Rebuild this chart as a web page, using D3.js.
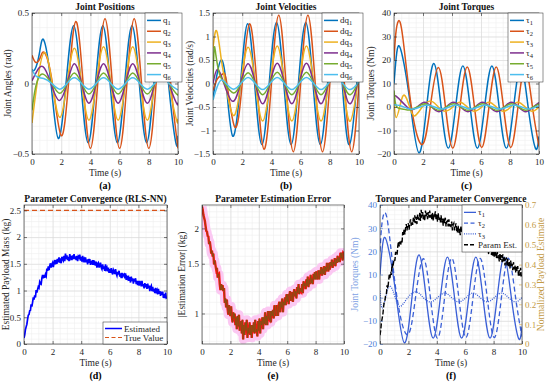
<!DOCTYPE html>
<html>
<head>
<meta charset="utf-8">
<script src="https://cdn.jsdelivr.net/npm/d3@7"></script>
<style>
body{margin:0;background:#fff;}
svg text{font-family:'Liberation Serif','Times New Roman',serif;}
</style>
</head>
<body>
<svg id="fig" width="550" height="386"></svg>
<script>
// ---- data: [time (s), value] key points ----
var posQ1 = [[0,0.10],[0.2,0.10],[0.5,0.21],[0.8,0.31],[1.3,0],[1.8,-0.39],[2.33,0],[2.85,0.41],[3.35,0],[3.85,-0.42],[4.35,0],[4.85,0.41],[5.35,0],[5.85,-0.42],[6.35,0],[6.85,0.41],[7.35,0],[7.85,-0.42],[8.35,0],[8.85,0.41],[9.35,0],[9.85,-0.42],[10,-0.37]];
var posQ2 = [[0,0.20],[0.25,0.15],[0.55,0.18],[0.85,0.22],[1.4,0],[2.0,-0.37],[2.5,0],[3.0,0.44],[3.5,0],[4.0,-0.46],[4.5,0],[5.0,0.46],[5.5,0],[6.0,-0.46],[6.5,0],[7.0,0.46],[7.5,0],[8.0,-0.46],[8.5,0],[9.0,0.46],[9.5,0],[10,-0.46]];
var posQ3 = [[0,-0.28],[0.35,0],[0.85,0.22],[1.38,0],[1.9,-0.24],[2.4,0],[2.9,0.25],[3.4,0],[3.9,-0.26],[4.4,0],[4.9,0.26],[5.4,0],[5.9,-0.26],[6.4,0],[6.9,0.26],[7.4,0],[7.9,-0.26],[8.4,0],[8.9,0.26],[9.4,0],[9.9,-0.26],[10,-0.25]];
var posQ4 = [[0,0.02],[0.3,0.08],[0.75,0.12],[1.3,0],[1.85,-0.12],[2.4,0],[2.9,0.14],[3.4,0],[3.9,-0.14],[4.4,0],[4.9,0.14],[5.4,0],[5.9,-0.14],[6.4,0],[6.9,0.14],[7.4,0],[7.9,-0.14],[8.4,0],[8.9,0.14],[9.4,0],[9.9,-0.14],[10,-0.135]];
var posQ5 = [[0,-0.19],[0.2,-0.05],[0.45,0.04],[0.8,0.065],[1.35,0],[1.9,-0.07],[2.4,0],[2.9,0.075],[3.4,0],[3.9,-0.075],[4.4,0],[4.9,0.075],[5.4,0],[5.9,-0.075],[6.4,0],[6.9,0.075],[7.4,0],[7.9,-0.075],[8.4,0],[8.9,0.075],[9.4,0],[9.9,-0.075],[10,-0.073]];
var posQ6 = [[0,0.10],[0.3,0.05],[0.8,0.035],[1.35,0],[1.9,-0.04],[2.4,0],[2.9,0.04],[3.4,0],[3.9,-0.04],[4.4,0],[4.9,0.04],[5.4,0],[5.9,-0.04],[6.4,0],[6.9,0.04],[7.4,0],[7.9,-0.04],[8.4,0],[8.9,0.04],[9.4,0],[9.9,-0.04],[10,-0.039]];

var velQ1 = [[0,-0.3],[0.25,0.15],[0.55,0.5],[0.9,0],[1.35,-1.12],[1.88,0],[2.37,1.27],[2.85,0],[3.35,-1.3],[3.85,0],[4.35,1.3],[4.85,0],[5.35,-1.3],[5.85,0],[6.35,1.3],[6.85,0],[7.35,-1.3],[7.85,0],[8.35,1.3],[8.85,0],[9.35,-1.3],[9.85,0],[10,0.6]];
var velQ2 = [[0,-0.15],[0.3,0.1],[0.65,0.2],[0.95,0],[1.5,-0.93],[2.0,0],[2.5,1.27],[3.0,0],[3.5,-1.4],[4.0,0],[4.5,1.45],[5.0,0],[5.5,-1.45],[6.0,0],[6.5,1.45],[7.0,0],[7.5,-1.45],[8.0,0],[8.5,1.45],[9.0,0],[9.5,-1.45],[10,0]];
var velQ3 = [[0,0.75],[0.25,1.12],[0.55,0.55],[0.85,0],[1.4,-0.68],[1.9,0],[2.4,0.77],[2.9,0],[3.4,-0.8],[3.9,0],[4.4,0.8],[4.9,0],[5.4,-0.8],[5.9,0],[6.4,0.8],[6.9,0],[7.4,-0.8],[7.9,0],[8.4,0.8],[8.9,0],[9.4,-0.8],[9.9,0],[10,0.25]];
var velQ4 = [[0,0],[0.3,0.3],[0.75,0],[1.35,-0.38],[1.88,0],[2.4,0.42],[2.9,0],[3.4,-0.43],[3.9,0],[4.4,0.43],[4.9,0],[5.4,-0.43],[5.9,0],[6.4,0.43],[6.9,0],[7.4,-0.43],[7.9,0],[8.4,0.43],[8.9,0],[9.4,-0.43],[9.9,0],[10,0.13]];
var velQ5 = [[0,0.1],[0.08,0.75],[0.2,0.6],[0.45,0.2],[0.8,0],[1.4,-0.2],[1.9,0],[2.4,0.23],[2.9,0],[3.4,-0.24],[3.9,0],[4.4,0.24],[4.9,0],[5.4,-0.24],[5.9,0],[6.4,0.24],[6.9,0],[7.4,-0.24],[7.9,0],[8.4,0.24],[8.9,0],[9.4,-0.24],[9.9,0],[10,0.07]];
var velQ6 = [[0,-0.35],[0.25,-0.1],[0.55,0.07],[0.9,0],[1.4,-0.12],[1.9,0],[2.4,0.13],[2.9,0],[3.4,-0.13],[3.9,0],[4.4,0.13],[4.9,0],[5.4,-0.13],[5.9,0],[6.4,0.13],[6.9,0],[7.4,-0.13],[7.9,0],[8.4,0.13],[8.9,0],[9.4,-0.13],[9.9,0],[10,0.04]];

var tau1 = [[0,10],[0.15,21],[0.35,26],[0.7,18],[1.15,0],[1.72,-19.5],[2.25,0],[2.75,18.5],[3.25,0],[3.75,-17.5],[4.25,0],[4.75,17.5],[5.25,0],[5.75,-17.5],[6.25,0],[6.75,17.5],[7.25,0],[7.75,-17.5],[8.25,0],[8.75,17.5],[9.25,0],[9.75,-17.5],[10,-12.5]];
var tau2 = [[0,20],[0.12,31],[0.3,36.5],[0.6,30],[1.2,0],[1.95,-16],[2.5,0],[3.05,16.8],[3.55,0],[4.05,-17.5],[4.55,0],[5.05,17],[5.55,0],[6.05,-17.2],[6.55,0],[7.05,17],[7.55,0],[8.05,-17.2],[8.55,0],[9.05,17],[9.55,0],[10,-16.8]];
var tau3 = [[0,3],[0.15,-4.5],[0.45,1.5],[0.72,5],[1.05,0.5],[1.4,-3.8],[1.95,0],[2.55,2.5],[3.05,0],[3.55,-1.8],[4.05,0],[4.55,2],[5.05,0],[5.55,-1.8],[6.05,0],[6.55,2],[7.05,0],[7.55,-1.8],[8.05,0],[8.55,2],[9.05,0],[9.55,-1.8],[10,0]];
var tau4 = [[0,4],[0.12,4.7],[0.5,2.5],[0.9,0],[1.2,-1.2],[1.6,0],[2.1,2],[2.6,0],[3.1,-2],[3.6,0],[4.1,2],[4.6,0],[5.1,-2],[5.6,0],[6.1,2],[6.6,0],[7.1,-2],[7.6,0],[8.1,2],[8.6,0],[9.1,-2],[9.6,0],[10,1.9]];
var tau5 = [[0,7],[0.1,1.5],[0.3,-0.5],[0.7,-1],[1.1,-1.3],[1.6,0],[2.1,1.4],[2.6,0],[3.1,-1.4],[3.6,0],[4.1,1.4],[4.6,0],[5.1,-1.4],[5.6,0],[6.1,1.4],[6.6,0],[7.1,-1.4],[7.6,0],[8.1,1.4],[8.6,0],[9.1,-1.4],[9.6,0],[10,1.3]];
var tau6 = [[0,1],[0.4,0.6],[0.9,-0.5],[1.3,-0.9],[1.8,0],[2.3,0.9],[2.8,0],[3.3,-0.9],[3.8,0],[4.3,0.9],[4.8,0],[5.3,-0.9],[5.8,0],[6.3,0.9],[6.8,0],[7.3,-0.9],[7.8,0],[8.3,0.9],[8.8,0],[9.3,-0.9],[9.8,0],[10,0.55]];

// estimated payload mass (kg), one sample every 0.05 s
var estStep = 0.05;
var estMass = [
 0.11,0.17,0.27,0.32,0.37,0.46,0.54,0.55,0.62,0.63,
 0.74,0.70,0.78,0.87,0.83,0.91,0.87,1.01,0.96,1.02,
 1.07,1.05,1.16,1.13,1.12,1.23,1.29,1.23,1.29,1.24,
 1.30,1.27,1.41,1.37,1.45,1.38,1.46,1.51,1.43,1.49,
 1.52,1.44,1.52,1.57,1.49,1.54,1.50,1.59,1.53,1.62,
 1.52,1.60,1.51,1.63,1.59,1.56,1.65,1.55,1.69,1.59,
 1.66,1.57,1.63,1.55,1.68,1.61,1.65,1.57,1.66,1.59,
 1.68,1.59,1.64,1.57,1.65,1.55,1.64,1.62,1.67,1.56,
 1.63,1.54,1.65,1.56,1.59,1.53,1.62,1.53,1.58,1.49,
 1.59,1.52,1.59,1.48,1.54,1.55,1.48,1.57,1.48,1.52,
 1.47,1.54,1.43,1.50,1.52,1.43,1.47,1.52,1.43,1.40,
 1.49,1.40,1.45,1.37,1.49,1.40,1.43,1.36,1.43,1.33,
 1.40,1.33,1.42,1.34,1.30,1.39,1.36,1.31,1.40,1.32,
 1.28,1.35,1.30,1.37,1.26,1.32,1.23,1.33,1.27,1.30,
 1.31,1.23,1.32,1.20,1.25,1.22,1.28,1.18,1.25,1.15,
 1.26,1.18,1.23,1.13,1.22,1.17,1.23,1.12,1.18,1.10,
 1.18,1.09,1.18,1.14,1.08,1.18,1.08,1.12,1.04,1.14,
 1.06,1.12,1.03,1.13,1.04,1.09,0.99,1.06,1.09,0.99,
 1.07,0.98,1.03,0.95,1.05,0.98,1.01,0.93,1.03,0.94,
 0.99,0.90,0.98,0.92,0.98,0.86,0.93,0.86,0.96,0.86,0.87
];
var trueMass = 2.5;

var posNames = ["q_1","q_2","q_3","q_4","q_5","q_6"];
var velNames = ["dq_1","dq_2","dq_3","dq_4","dq_5","dq_6"];
var tauNames = ["τ_1","τ_2","τ_3","τ_4","τ_5","τ_6"];
var timeTicks = [0,2,4,6,8,10];

var COLORS = ["#0072BD","#D95319","#EDB120","#7E2F8E","#77AC30","#4DBEEE"];
var INK = "#262626";
var BLUE_F = "#3a5fd6";
var GOLD_F = "#c39a45";

var svg = d3.select("#fig");
var panelCount = 0;

function styleGrid(sel, color){
    sel.select(".domain").remove();
    sel.selectAll(".tick line").attr("stroke",color).attr("stroke-width",0.6);
}

function styleAxis(sel, color){
    sel.select(".domain").remove();
    sel.selectAll(".tick line").attr("stroke",color || INK).attr("stroke-width",0.6);
    sel.selectAll(".tick text").attr("fill",color || INK).style("font-size","9px");
}

function makePanel(o){
    var id = "clip" + (panelCount++);
    var g = svg.append("g");
    var x = d3.scaleLinear().domain([0,10]).range([o.left,o.right]);
    var y = (o.log ? d3.scaleLog() : d3.scaleLinear()).domain(o.yDomain).range([o.bottom,o.top]);
    var w = o.right - o.left, h = o.bottom - o.top;

    g.append("clipPath").attr("id",id).append("rect")
        .attr("x",o.left).attr("y",o.top).attr("width",w).attr("height",h);

    // minor then major grid
    g.append("g").attr("transform","translate(0,"+o.bottom+")")
        .call(d3.axisBottom(x).tickValues(d3.range(0,10.01,0.5)).tickSize(-h).tickFormat(""))
        .call(styleGrid,"#efefef");
    g.append("g").attr("transform","translate("+o.left+",0)")
        .call(d3.axisLeft(y).tickValues(o.yMinor).tickSize(-w).tickFormat(""))
        .call(styleGrid,"#efefef");
    g.append("g").attr("transform","translate(0,"+o.bottom+")")
        .call(d3.axisBottom(x).tickValues(timeTicks).tickSize(-h).tickFormat(""))
        .call(styleGrid,"#d9d9d9");
    g.append("g").attr("transform","translate("+o.left+",0)")
        .call(d3.axisLeft(y).tickValues(o.yTicks).tickSize(-w).tickFormat(""))
        .call(styleGrid,"#d9d9d9");

    var plot = g.append("g").attr("clip-path","url(#"+id+")");

    // axes with inward ticks on all four sides
    g.append("g").attr("transform","translate(0,"+o.bottom+")")
        .call(d3.axisBottom(x).tickValues(timeTicks).tickSizeInner(-3).tickSizeOuter(0).tickPadding(5).tickFormat(d3.format("d")))
        .call(styleAxis);
    g.append("g").attr("transform","translate(0,"+o.top+")")
        .call(d3.axisTop(x).tickValues(timeTicks).tickSizeInner(-3).tickSizeOuter(0).tickFormat(""))
        .call(styleAxis);
    g.append("g").attr("transform","translate("+o.left+",0)")
        .call(d3.axisLeft(y).tickValues(o.yTicks).tickSizeInner(-3).tickSizeOuter(0).tickPadding(3).tickFormat(o.yFormat || d3.format("")))
        .call(styleAxis, o.yColor);
    if(!o.noRight){
        g.append("g").attr("transform","translate("+o.right+",0)")
            .call(d3.axisRight(y).tickValues(o.yTicks).tickSizeInner(-3).tickSizeOuter(0).tickFormat(""))
            .call(styleAxis);
    }

    g.append("rect").attr("x",o.left).attr("y",o.top).attr("width",w).attr("height",h)
        .attr("fill","none").attr("stroke",INK).attr("stroke-width",0.6);

    g.append("text").attr("x",(o.left+o.right)/2).attr("y",o.top-3)
        .attr("text-anchor","middle").style("font-size","9.5px").style("font-weight","bold")
        .attr("fill","#111").text(o.title);
    g.append("text").attr("x",(o.left+o.right)/2).attr("y",o.bottom+22)
        .attr("text-anchor","middle").style("font-size","9.5px").attr("fill",INK).text("Time (s)");
    g.append("text").attr("transform","translate("+o.yLabelX+","+((o.top+o.bottom)/2)+") rotate(-90)")
        .attr("text-anchor","middle").style("font-size","9.5px").attr("fill",o.yLabelColor || INK).text(o.yLabel);
    g.append("text").attr("x",(o.left+o.right)/2 + (o.tagDx || 0)).attr("y",o.bottom+35)
        .attr("text-anchor","middle").style("font-size","10px").style("font-weight","bold")
        .attr("fill","#000").text(o.tag);

    return {g:g, plot:plot, x:x, y:y};
}

function addLabel(textSel, label){
    var parts = label.split("_");
    textSel.append("tspan").text(parts[0]);
    if(parts[1]) textSel.append("tspan").attr("dy",2).style("font-size","6.5px").text(parts[1]);
}

function legend(g, items, bx, by, bw, bh, lineLen){
    g.append("rect").attr("x",bx).attr("y",by).attr("width",bw).attr("height",bh)
        .attr("fill","#fff").attr("stroke",INK).attr("stroke-width",0.5);
    var step = (bh - 4) / items.length;
    items.forEach(function(it,i){
        var cy = by + 2 + step*(i+0.5);
        g.append("line").attr("x1",bx+2).attr("x2",bx+2+lineLen).attr("y1",cy).attr("y2",cy)
            .attr("stroke",it.color).attr("stroke-width",it.width || 1.5)
            .attr("stroke-dasharray",it.dash || null);
        var t = g.append("text").attr("x",bx+4+lineLen).attr("y",cy+3)
            .style("font-size","9px").attr("fill",INK);
        addLabel(t, it.label);
    });
}

function drawCurves(p, series, colors){
    var line = d3.line().x(function(d){return p.x(d[0]);}).y(function(d){return p.y(d[1]);}).curve(d3.curveNatural);
    series.forEach(function(s,i){
        p.plot.append("path").datum(s).attr("d",line)
            .attr("fill","none").attr("stroke",colors[i]).attr("stroke-width",1.5);
    });
}

// ---- (a) joint positions ----
var pa = makePanel({left:32,right:178,top:13,bottom:154,yDomain:[-0.5,0.5],
    yTicks:[-0.5,0,0.5],yMinor:d3.range(-0.5,0.51,0.1),
    title:"Joint Positions",yLabel:"Joint Angles (rad)",yLabelX:11,tag:"(a)"});
drawCurves(pa,[posQ1,posQ2,posQ3,posQ4,posQ5,posQ6],COLORS);
legend(pa.g, posNames.map(function(n,i){return {label:n,color:COLORS[i]};}),145,13,37,69,14);

// ---- (b) joint velocities ----
var pb = makePanel({left:213,right:359,top:13,bottom:154,yDomain:[-1.5,1.5],
    yTicks:[-1.5,-1,-0.5,0,0.5,1,1.5],yMinor:d3.range(-1.5,1.51,0.1),
    title:"Joint Velocities",yLabel:"Joint Velocities (rad/s)",yLabelX:193,tag:"(b)"});
drawCurves(pb,[velQ1,velQ2,velQ3,velQ4,velQ5,velQ6],COLORS);
legend(pb.g, velNames.map(function(n,i){return {label:n,color:COLORS[i]};}),322,13,41,69,14);

// ---- (c) joint torques ----
var pc = makePanel({left:394,right:539,top:13,bottom:154,yDomain:[-20,40],
    yTicks:[-20,-10,0,10,20,30,40],yMinor:d3.range(-20,40.1,2),
    title:"Joint Torques",yLabel:"Joint Torques (Nm)",yLabelX:374,tag:"(c)"});
drawCurves(pc,[tau1,tau2,tau3,tau4,tau5,tau6],COLORS);
legend(pc.g, tauNames.map(function(n,i){return {label:n,color:COLORS[i]};}),508,13,35,69,14);

// ---- (d) parameter convergence ----
var estSeries = estMass.map(function(v,i){return [i*estStep, v];});
var pd = makePanel({left:24,right:167,top:205,bottom:344,yDomain:[0,2.6],
    yTicks:[0,0.5,1,1.5,2,2.5],yMinor:d3.range(0,2.61,0.1),
    title:"Parameter Convergence (RLS-NN)",yLabel:"Estimated Payload Mass (kg)",yLabelX:9,tag:"(d)"});
var lineD = d3.line().x(function(d){return pd.x(d[0]);}).y(function(d){return pd.y(d[1]);});
pd.plot.append("path").datum(estSeries).attr("d",lineD)
    .attr("fill","none").attr("stroke","#0000ff").attr("stroke-width",1.7);
pd.plot.append("path").datum([[0,trueMass],[10,trueMass]]).attr("d",lineD)
    .attr("fill","none").attr("stroke","#D95319").attr("stroke-width",1.2).attr("stroke-dasharray","5,3");
legend(pd.g,[{label:"Estimated",color:"#0000ff"},{label:"True Value",color:"#D95319",dash:"4,2.5",width:1.2}],103,322,64,22,17);

// ---- (e) estimation error ----
var errSeries = estSeries.map(function(d){return [d[0], Math.abs(trueMass - d[1])];});
var pe = makePanel({left:202,right:344,top:205,bottom:344,yDomain:[0.78,2.42],log:true,
    yTicks:[1,1.5,2],yMinor:[0.8,0.9,1.1,1.2,1.3,1.4,1.6,1.7,1.8,1.9,2.1,2.2,2.3,2.4],
    yFormat:d3.format(""),
    title:"Parameter Estimation Error",yLabel:"|Estimation Error| (kg)",yLabelX:185,tag:"(e)"});
var lineE = d3.line().x(function(d){return pe.x(d[0]);}).y(function(d){return pe.y(d[1]);});
pe.plot.append("path").datum(errSeries).attr("d",lineE)
    .attr("fill","none").attr("stroke","#fbc8f2").attr("stroke-width",9).attr("stroke-linejoin","round");
pe.plot.append("path").datum(errSeries).attr("d",lineE)
    .attr("fill","none").attr("stroke","#ff1010").attr("stroke-width",2.4);
pe.plot.append("path").datum(errSeries).attr("d",lineE)
    .attr("fill","none").attr("stroke","#6e5a12").attr("stroke-width",0.7);

// ---- (f) torques and parameter convergence ----
var pf = makePanel({left:380,right:522,top:205,bottom:344,yDomain:[-20,40],
    yTicks:[-20,-10,0,10,20,30,40],yMinor:d3.range(-20,40.1,2),yColor:"#4f7fd8",noRight:true,
    title:"Torques and Parameter Convergence",yLabel:"Joint Torques (Nm)",yLabelX:358,yLabelColor:"#7d9fe3",tag:"(f)"});
var y2 = d3.scaleLinear().domain([0,0.7]).range([344,205]);
pf.g.append("g").attr("transform","translate(522,0)")
    .call(d3.axisRight(y2).tickValues(d3.range(0,0.71,0.1)).tickSizeInner(-3).tickSizeOuter(0).tickPadding(3).tickFormat(d3.format("")))
    .call(styleAxis, GOLD_F);
pf.g.append("text").attr("transform","translate(544,274.5) rotate(-90)")
    .attr("text-anchor","middle").style("font-size","9.5px").attr("fill",GOLD_F).text("Normalized Payload Estimate");
var lineF = d3.line().x(function(d){return pf.x(d[0]);}).y(function(d){return pf.y(d[1]);}).curve(d3.curveNatural);
var fStyles = [null,"5,3","1,1.2"];
[tau1,tau2,tau3].forEach(function(s,i){
    pf.plot.append("path").datum(s).attr("d",lineF)
        .attr("fill","none").attr("stroke",BLUE_F).attr("stroke-width",1.3).attr("stroke-dasharray",fStyles[i]);
});
var paramSeries = estSeries.map(function(d){return [d[0], d[1]/trueMass];});
var lineF2 = d3.line().x(function(d){return pf.x(d[0]);}).y(function(d){return y2(d[1]);});
pf.plot.append("path").datum(paramSeries).attr("d",lineF2)
    .attr("fill","none").attr("stroke","#000").attr("stroke-width",1.4).attr("stroke-dasharray","5,2");
legend(pf.g,[{label:"τ_1",color:BLUE_F,width:1.3},{label:"τ_2",color:BLUE_F,dash:"4,2.5",width:1.3},
    {label:"τ_3",color:BLUE_F,dash:"1,1.2",width:1.3},{label:"Param Est.",color:"#000",dash:"4,2",width:1.5}],462,205,60,47,12);
</script>
</body>
</html>
